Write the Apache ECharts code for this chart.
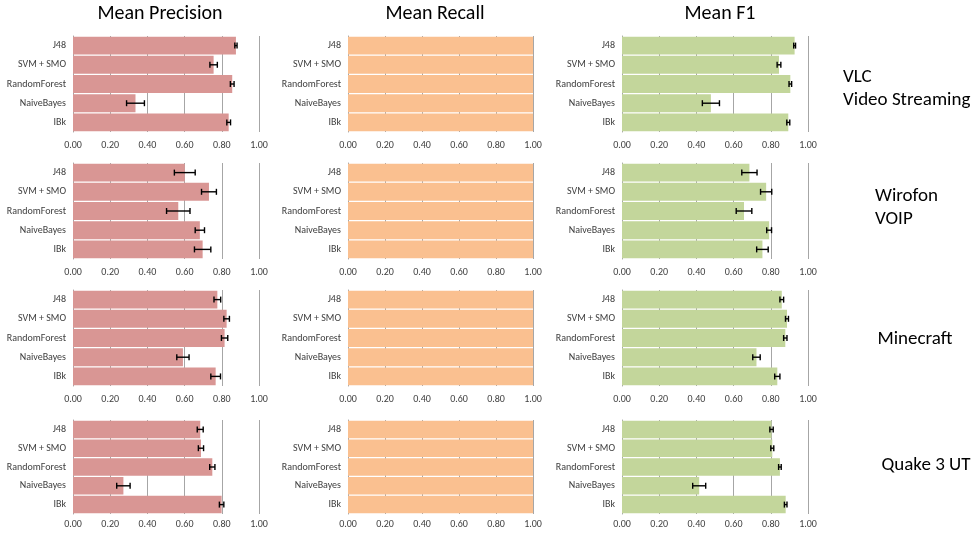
<!DOCTYPE html>
<html>
<head>
<meta charset="utf-8">
<script src="https://cdn.jsdelivr.net/npm/echarts@6/dist/echarts.min.js"></script>
<style>
  html, body { margin: 0; padding: 0; background: #fff; }
  #chart { width: 978px; height: 538px; }
</style>
</head>
<body>
<div id="chart"></div>
<script>
// Classifiers, listed top to bottom in every panel
const categories = ['J48', 'SVM + SMO', 'RandomForest', 'NaiveBayes', 'IBk'];
const metricTitles = ['Mean Precision', 'Mean Recall', 'Mean F1'];
const scenarioLabels = [['VLC', 'Video Streaming'], ['Wirofon', 'VOIP'], ['Minecraft'], ['Quake 3 UT']];
const tickLabels = ['0.00', '0.20', '0.40', '0.60', '0.80', '1.00'];

// VLC Video Streaming
const vlcPrecision = [0.876, 0.756, 0.856, 0.336, 0.837];
const vlcPrecisionErr = [0.006, 0.020, 0.010, 0.048, 0.010];
const vlcRecall = [1.00, 1.00, 1.00, 1.00, 1.00];
const vlcRecallErr = [0, 0, 0, 0, 0];
const vlcF1 = [0.928, 0.844, 0.905, 0.478, 0.894];
const vlcF1Err = [0.005, 0.010, 0.007, 0.046, 0.008];

// Wirofon VOIP
const voipPrecision = [0.601, 0.731, 0.566, 0.682, 0.697];
const voipPrecisionErr = [0.056, 0.040, 0.063, 0.025, 0.044];
const voipRecall = [1.00, 1.00, 1.00, 1.00, 1.00];
const voipRecallErr = [0, 0, 0, 0, 0];
const voipF1 = [0.685, 0.775, 0.656, 0.791, 0.755];
const voipF1Err = [0.041, 0.030, 0.042, 0.013, 0.031];

// Minecraft
const minecraftPrecision = [0.776, 0.826, 0.815, 0.591, 0.767];
const minecraftPrecisionErr = [0.018, 0.015, 0.017, 0.033, 0.026];
const minecraftRecall = [1.00, 1.00, 1.00, 1.00, 1.00];
const minecraftRecallErr = [0, 0, 0, 0, 0];
const minecraftF1 = [0.859, 0.887, 0.878, 0.723, 0.835];
const minecraftF1Err = [0.010, 0.008, 0.009, 0.020, 0.014];

// Quake 3 UT
const quakePrecision = [0.684, 0.688, 0.749, 0.271, 0.799];
const quakePrecisionErr = [0.016, 0.014, 0.014, 0.036, 0.012];
const quakeRecall = [1.00, 1.00, 1.00, 1.00, 1.00];
const quakeRecallErr = [0, 0, 0, 0, 0];
const quakeF1 = [0.804, 0.808, 0.849, 0.415, 0.880];
const quakeF1Err = [0.009, 0.008, 0.007, 0.035, 0.007];

const panelValues = [
  [vlcPrecision, vlcRecall, vlcF1],
  [voipPrecision, voipRecall, voipF1],
  [minecraftPrecision, minecraftRecall, minecraftF1],
  [quakePrecision, quakeRecall, quakeF1]
];
const panelErrors = [
  [vlcPrecisionErr, vlcRecallErr, vlcF1Err],
  [voipPrecisionErr, voipRecallErr, voipF1Err],
  [minecraftPrecisionErr, minecraftRecallErr, minecraftF1Err],
  [quakePrecisionErr, quakeRecallErr, quakeF1Err]
];

const FONT = 'Carlito, Lato, "Open Sans", sans-serif';
const barColors = ['#D99694', '#FAC090', '#C3D69B'];
const colLeft = [73, 348, 622];
const colWidth = [186, 185, 186];
const colCenter = [160, 435, 720];
const rowTop = [36, 163, 290, 420];
const rowHeight = [96, 96, 96, 94];
const labelMargin = [8, 8, 8, 5];

const grids = [], xAxes = [], yAxes = [], series = [];

// Whisker with end caps, drawn at value ± err on the category row
function errorBarItem(params, api) {
  const v = api.value(0), cat = api.value(1), e = api.value(2);
  if (!e) return null;
  const a = api.coord([v - e, cat]);
  const b = api.coord([v + e, cat]);
  const cap = 3;
  const style = { stroke: '#000', lineWidth: 1.4 };
  return {
    type: 'group',
    children: [
      { type: 'line', shape: { x1: a[0], y1: a[1], x2: b[0], y2: b[1] }, style },
      { type: 'line', shape: { x1: a[0], y1: a[1] - cap, x2: a[0], y2: a[1] + cap }, style },
      { type: 'line', shape: { x1: b[0], y1: b[1] - cap, x2: b[0], y2: b[1] + cap }, style }
    ]
  };
}

for (let r = 0; r < 4; r++) {
  for (let c = 0; c < 3; c++) {
    const idx = grids.length;
    grids.push({ left: colLeft[c], top: rowTop[r], width: colWidth[c], height: rowHeight[r], containLabel: false });
    xAxes.push({
      gridIndex: idx, type: 'value', min: 0, max: 1, interval: 0.2,
      axisLine: { show: false }, axisTick: { show: false },
      axisLabel: {
        fontFamily: FONT, fontSize: 10, color: '#404040', margin: labelMargin[r],
        formatter: v => tickLabels[Math.round(v / 0.2)]
      },
      splitLine: { show: true, lineStyle: { color: '#A6A6A6', width: 1 } }
    });
    yAxes.push({
      gridIndex: idx, type: 'category', data: categories, inverse: true,
      axisLine: { show: true, lineStyle: { color: '#A6A6A6', width: 1 } },
      axisTick: { show: false },
      axisLabel: { fontFamily: FONT, fontSize: 10, color: '#404040', margin: 7 }
    });
    const vals = panelValues[r][c];
    const errs = panelErrors[r][c];
    series.push({
      type: 'bar', xAxisIndex: idx, yAxisIndex: idx,
      data: vals, barCategoryGap: '7%',
      itemStyle: { color: barColors[c] },
      silent: true, animation: false
    });
    series.push({
      type: 'custom', xAxisIndex: idx, yAxisIndex: idx,
      renderItem: errorBarItem,
      encode: { x: 0, y: 1 },
      data: vals.map((v, i) => [v, i, errs[i]]),
      z: 5, silent: true, animation: false
    });
  }
}

const graphics = [];
metricTitles.forEach((t, c) => {
  graphics.push({
    type: 'text', x: colCenter[c], y: 14,
    style: { text: t, font: '20px ' + FONT, fill: '#000', textAlign: 'center', textVerticalAlign: 'middle' }
  });
});
// Scenario names to the right of each row of panels
const scenarioX = [843, 875, 915, 926];
const scenarioAlign = ['left', 'left', 'center', 'center'];
const scenarioY = [89, 208, 339, 465];
scenarioLabels.forEach((lines, r) => {
  graphics.push({
    type: 'text', x: scenarioX[r], y: scenarioY[r],
    style: {
      text: lines.join('\n'), font: '19px ' + FONT, fill: '#000',
      textAlign: scenarioAlign[r], textVerticalAlign: 'middle', lineHeight: 23
    }
  });
});

const chart = echarts.init(document.getElementById('chart'), null, { renderer: 'canvas' });
chart.setOption({
  animation: false,
  backgroundColor: '#fff',
  grid: grids,
  xAxis: xAxes,
  yAxis: yAxes,
  series: series,
  graphic: graphics
});
</script>
</body>
</html>
